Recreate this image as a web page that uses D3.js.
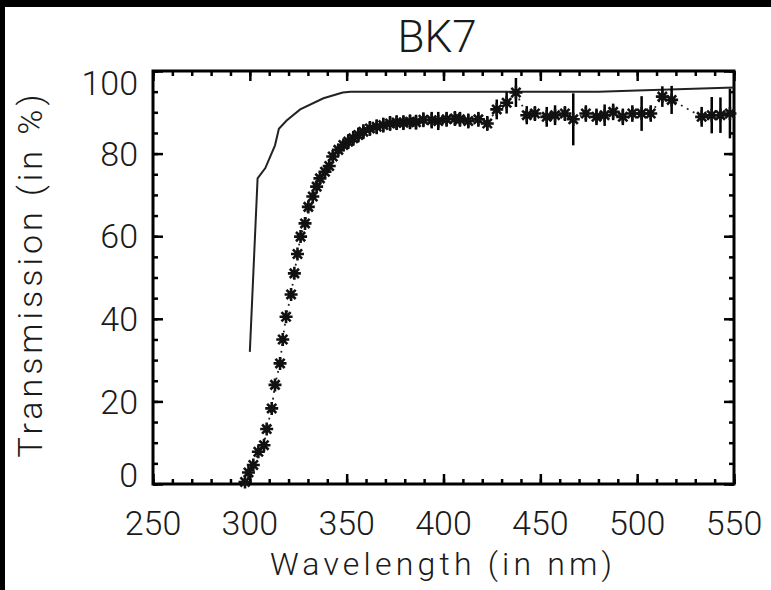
<!DOCTYPE html>
<html>
<head>
<meta charset="utf-8">
<script src="https://cdn.jsdelivr.net/npm/d3@7"></script>
<style>
  body { margin: 0; background: #fff; }
  text { font-family: Roboto, "Liberation Sans", Arial, sans-serif; font-weight: 300; fill: #1a1a1a; }
</style>
</head>
<body>
<svg id="chart" width="771" height="590"></svg>
<script>
// Theoretical transmission (solid line)
var theoryWl = [300, 304, 308, 313, 315, 319, 326, 338, 348, 352, 400, 450, 480, 500, 550];
var theoryT  = [32, 74, 76.5, 82, 86, 88, 90.7, 93.4, 94.8, 95, 95, 95, 95, 95.3, 96];

// Measured transmission (asterisks + error bars, dotted line)
var measWl = [297.5, 299.3, 301.8, 304.4, 307.3, 308.7, 311.3, 313.0, 315.6, 317.0,
              318.7, 321.3, 323.0, 324.6, 326.2, 328.5, 330.2, 332.5, 334.5, 336.2,
              338.8, 341.0, 342.8, 345.7, 348.3, 350.8, 353.4, 356.0, 358.6, 362.0,
              365.5, 368.9, 372.4, 375.8, 379.3, 382.7, 385.8, 389.6, 393.9, 397.3,
              401.6, 405.9, 408.5, 412.8, 418.0, 422.6, 427.5, 432.6, 437.4, 443.0,
              447.2, 453.3, 457.6, 462.7, 467.0, 473.5, 479.0, 483.2, 487.6, 492.6,
              497.5, 502.3, 507.0, 513.0, 517.8, 533.3, 538.5, 543.0, 547.9];
var measT  = [0.5, 2.8, 4.6, 7.8, 9.4, 13.3, 18.3, 24.0, 29.2, 35.0,
              40.5, 45.9, 51.0, 55.7, 59.9, 63.1, 67.1, 69.6, 72.0, 74.0,
              75.6, 77.0, 79.3, 80.9, 82.1, 82.9, 83.7, 84.5, 85.3, 86.1,
              86.5, 86.9, 87.3, 87.5, 87.5, 87.7, 87.6, 88.2, 88.1, 87.9,
              88.3, 88.5, 88.3, 87.9, 88.3, 87.3, 90.7, 92.3, 94.8, 89.3,
              89.7, 88.9, 89.3, 89.7, 88.3, 89.7, 88.9, 89.3, 90.1, 88.9,
              89.7, 89.7, 89.7, 93.8, 93.0, 88.9, 89.3, 89.3, 89.7];
var measErr = [0.8, 0.8, 0.8, 0.8, 0.8, 0.8, 0.8, 0.8, 0.8, 0.8,
               0.8, 0.8, 0.8, 0.8, 1.0, 1.0, 1.0, 1.0, 1.0, 1.0,
               1.0, 1.0, 1.0, 1.0, 1.0, 1.8, 1.8, 1.8, 1.8, 1.8,
               1.8, 1.8, 1.8, 1.8, 1.8, 1.8, 1.8, 1.8, 2.0, 2.2,
               1.8, 1.8, 1.8, 1.8, 1.8, 1.8, 2.4, 2.6, 3.5, 2.2,
               1.8, 2.4, 2.4, 1.8, 6.3, 2.0, 2.0, 2.6, 2.0, 2.0,
               2.0, 4.2, 2.0, 2.5, 3.4, 2.4, 4.4, 4.3, 6.0];

var xTicks = [250, 300, 350, 400, 450, 500, 550];
var yTicks = [0, 20, 40, 60, 80, 100];

var svg = d3.select("#chart");

// black border strips on top and left
svg.append("rect").attr("x", 0).attr("y", 0).attr("width", 771).attr("height", 7).attr("fill", "#000");
svg.append("rect").attr("x", 0).attr("y", 0).attr("width", 5).attr("height", 590).attr("fill", "#000");

var plotLeft = 153, plotRight = 734, plotTop = 71, plotBottom = 484;

var x = d3.scaleLinear().domain([250, 550]).range([plotLeft, plotRight]);
var y = d3.scaleLinear().domain([0, 100]).range([plotBottom, plotTop]);

// ticks on all four sides, pointing inward
function tickAxes(axisFn, scale, pos, values, size, horizontal) {
    var g = svg.append("g")
        .attr("transform", horizontal ? "translate(0," + pos + ")" : "translate(" + pos + ",0)")
        .call(axisFn(scale).tickValues(values).tickSize(size).tickFormat(""));
    g.select(".domain").remove();
    g.selectAll("line").attr("stroke", "#000").attr("stroke-width", 2.5);
}
var xMinor = d3.range(250, 551, 10);
var yMinor = d3.range(0, 101, 5);
tickAxes(d3.axisBottom, x, plotBottom, xMinor, -5, true);
tickAxes(d3.axisBottom, x, plotBottom, xTicks, -10, true);
tickAxes(d3.axisTop, x, plotTop, xMinor, -5, true);
tickAxes(d3.axisTop, x, plotTop, xTicks, -10, true);
tickAxes(d3.axisLeft, y, plotLeft, yMinor, -5, false);
tickAxes(d3.axisLeft, y, plotLeft, yTicks, -10, false);
tickAxes(d3.axisRight, y, plotRight, yMinor, -5, false);
tickAxes(d3.axisRight, y, plotRight, yTicks, -10, false);

// frame
svg.append("rect")
    .attr("x", plotLeft).attr("y", plotTop)
    .attr("width", plotRight - plotLeft).attr("height", plotBottom - plotTop)
    .attr("fill", "none").attr("stroke", "#000").attr("stroke-width", 3);

// tick labels
svg.selectAll(".xlab").data(xTicks).enter().append("text")
    .attr("class", "xlab")
    .attr("x", d => x(d))
    .attr("y", 535)
    .attr("text-anchor", "middle")
    .style("font-size", "34px")
    .text(d => d);

svg.selectAll(".ylab").data(yTicks).enter().append("text")
    .attr("class", "ylab")
    .attr("x", 138)
    .attr("y", d => y(d) + (d === 100 ? 12 : d === 0 ? -9 : 0))
    .attr("dy", "0.36em")
    .attr("text-anchor", "end")
    .style("font-size", "34px")
    .text(d => d);

// titles
svg.append("text")
    .attr("x", 437).attr("y", 52)
    .attr("text-anchor", "middle")
    .style("font-size", "44px")
    .text("BK7");

svg.append("text")
    .attr("x", 441).attr("y", 575)
    .attr("text-anchor", "middle")
    .attr("textLength", 342).attr("lengthAdjust", "spacing")
    .style("font-size", "32px")
    .text("Wavelength (in nm)");

svg.append("text")
    .attr("transform", "translate(42,276) rotate(-90)")
    .attr("text-anchor", "middle")
    .attr("textLength", 363).attr("lengthAdjust", "spacing")
    .style("font-size", "34px")
    .text("Transmission (in %)");

// theoretical curve
var theory = theoryWl.map((w, i) => ({ w: w, t: theoryT[i] }));
svg.append("path")
    .datum(theory)
    .attr("fill", "none")
    .attr("stroke", "#222")
    .attr("stroke-width", 2)
    .attr("d", d3.line().x(d => x(d.w)).y(d => y(d.t)));

// measured data
var meas = measWl.map((w, i) => ({ w: w, t: measT[i], e: measErr[i] }));
svg.append("path")
    .datum(meas)
    .attr("fill", "none")
    .attr("stroke", "#222")
    .attr("stroke-width", 1.8)
    .attr("stroke-dasharray", "1.8,5")
    .attr("d", d3.line().x(d => x(d.w)).y(d => y(d.t)));

svg.selectAll(".err").data(meas).enter().append("line")
    .attr("class", "err")
    .attr("x1", d => x(d.w)).attr("x2", d => x(d.w))
    .attr("y1", d => y(Math.max(0, d.t - d.e)))
    .attr("y2", d => y(d.t + d.e))
    .attr("stroke", "#000")
    .attr("stroke-width", 2.5);

var star = "M-6.5,0H6.5M0,-6.5V6.5M-4.6,-4.6L4.6,4.6M-4.6,4.6L4.6,-4.6";
svg.selectAll(".pt").data(meas).enter().append("path")
    .attr("class", "pt")
    .attr("transform", d => "translate(" + x(d.w) + "," + y(d.t) + ")")
    .attr("d", star)
    .attr("fill", "none")
    .attr("stroke", "#111")
    .attr("stroke-width", 2.6);
</script>
</body>
</html>
